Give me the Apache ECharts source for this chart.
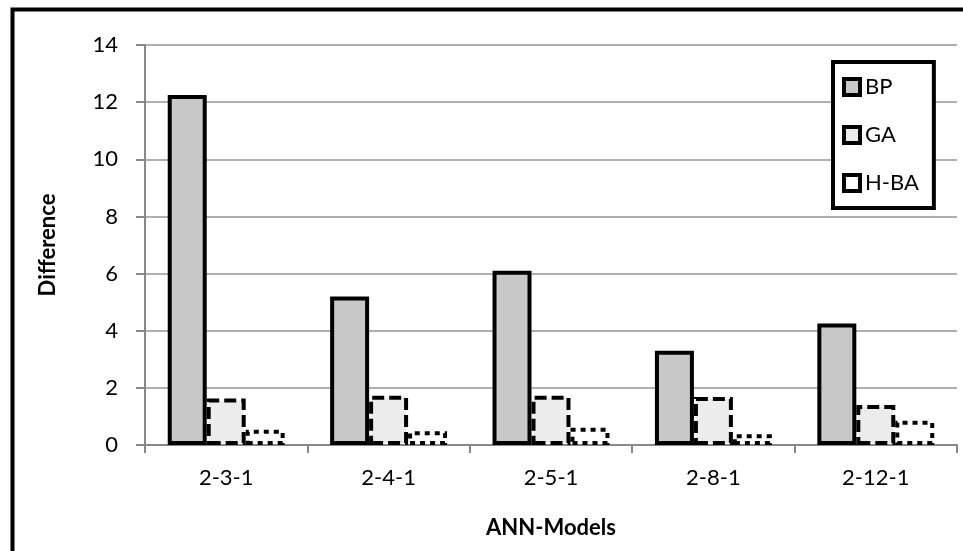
<!DOCTYPE html>
<html>
<head>
<meta charset="utf-8">
<script src="https://cdn.jsdelivr.net/npm/echarts@6/dist/echarts.min.js"></script>
<style>
html,body{margin:0;padding:0;background:#fff;}
#chart{width:963px;height:551px;}
</style>
</head>
<body>
<div id="chart"></div>
<script>
const categories = ['2-3-1', '2-4-1', '2-5-1', '2-8-1', '2-12-1'];
const bpValues = [12.25, 5.2, 6.1, 3.3, 4.25];
const gaValues = [1.63, 1.72, 1.72, 1.68, 1.4];
const hbaValues = [0.53, 0.48, 0.6, 0.38, 0.85];
const yTicks = [0, 14, 2];
const seriesNames = ['BP', 'GA', 'H-BA'];

const FONT = 'Lato';
const FS = 22;
const chart = echarts.init(document.getElementById('chart'), null, {renderer: 'canvas'});
chart.setOption({
  animation: false,
  backgroundColor: '#fff',
  textStyle: {fontFamily: FONT, color: '#000'},
  grid: {left: 145, right: 6, top: 45, bottom: 106, containLabel: false},
  graphic: [{
    type: 'rect', silent: true, z: 100,
    shape: {x: 12.5, y: 9.5, width: 1100, height: 700},
    style: {fill: 'none', stroke: '#000', lineWidth: 4}
  }],
  legend: {
    orient: 'vertical',
    left: 833, top: 62,
    padding: [14, 15, 14, 9],
    itemGap: 26,
    itemWidth: 16, itemHeight: 16,
    icon: 'rect',
    itemStyle: {borderWidth: 4},
    borderColor: '#000', borderWidth: 4,
    backgroundColor: '#fff',
    textStyle: {fontFamily: FONT, fontSize: FS, color: '#000', lineHeight: 22, padding: [0,0,0,0]},
    data: seriesNames
  },
  xAxis: {
    type: 'category',
    data: categories,
    name: 'ANN-Models',
    nameLocation: 'middle',
    nameGap: 72,
    nameTextStyle: {fontFamily: FONT, fontWeight: 'bold', fontSize: FS, color: '#000'},
    axisLine: {lineStyle: {color: '#888', width: 2}},
    axisTick: {show: true, length: 8, lineStyle: {color: '#888', width: 2}},
    axisLabel: {fontFamily: FONT, fontSize: FS, color: '#000', margin: 22}
  },
  yAxis: {
    type: 'value',
    min: yTicks[0], max: yTicks[1], interval: yTicks[2],
    name: 'Difference',
    nameLocation: 'middle',
    nameGap: 86,
    nameRotate: 90,
    nameTextStyle: {fontFamily: FONT, fontWeight: 'bold', fontSize: FS, color: '#000'},
    axisLine: {show: true, lineStyle: {color: '#888', width: 2}},
    axisTick: {show: true, length: 9, lineStyle: {color: '#888', width: 2}},
    splitLine: {lineStyle: {color: '#b0b0b0', width: 2}},
    axisLabel: {fontFamily: FONT, fontSize: FS, color: '#000', margin: 27}
  },
  series: [
    {
      name: seriesNames[0], type: 'bar', data: bpValues,
      barGap: '0%', barCategoryGap: '28%',
      itemStyle: {color: '#c8c8c8', borderColor: '#000', borderWidth: 4}
    },
    {
      name: seriesNames[1], type: 'bar', data: gaValues,
      itemStyle: {color: '#ececec', borderColor: '#000', borderWidth: 4, borderType: [12, 5]}
    },
    {
      name: seriesNames[2], type: 'bar', data: hbaValues,
      itemStyle: {color: '#ffffff', borderColor: '#000', borderWidth: 4, borderType: [5, 5]}
    }
  ]
});
</script>
</body>
</html>
